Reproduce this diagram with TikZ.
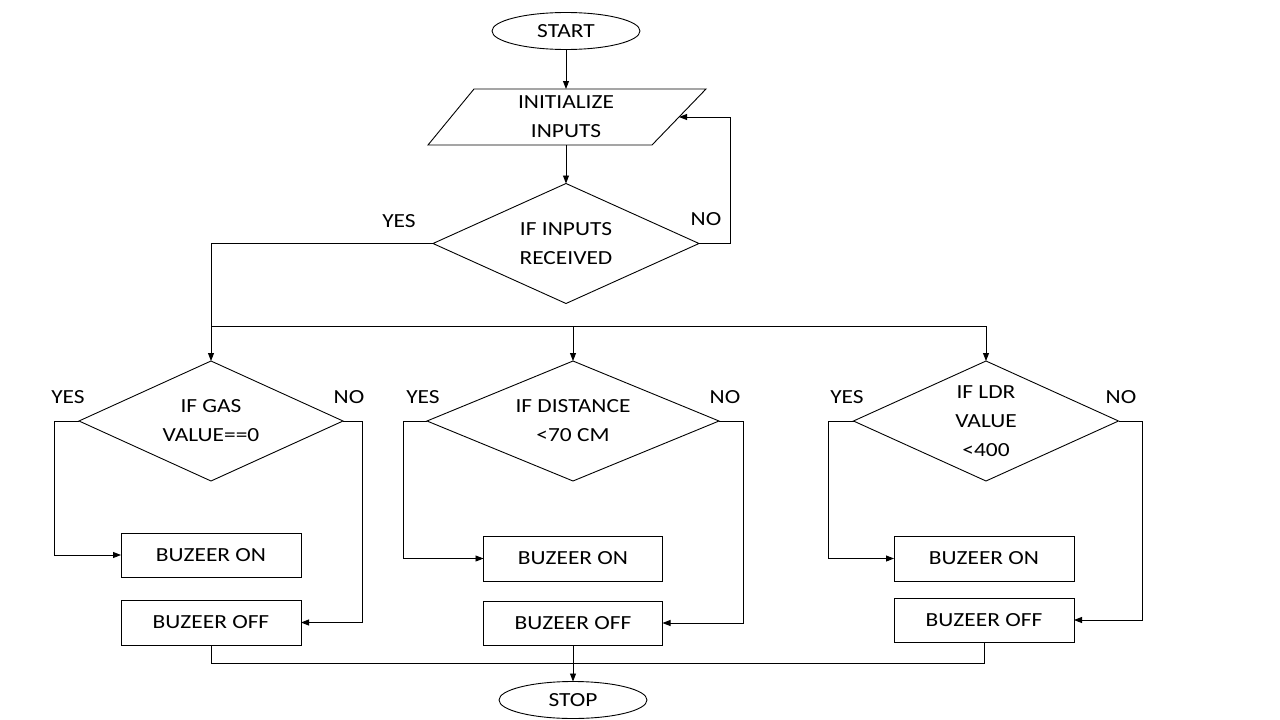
\documentclass[tikz,border=0pt]{standalone}
\usepackage{fontspec}
\setmainfont[FakeStretch=1.17]{Carlito}
\usetikzlibrary{shapes.geometric,arrows.meta}
\begin{document}
\begin{tikzpicture}[x=1pt,y=-1pt, line width=0.9pt,
 every node/.style={font=\fontsize{20}{29}\selectfont, inner sep=0pt, outer sep=0pt},
 term/.style={draw, ellipse, minimum width=148pt, minimum height=37pt},
 dec/.style={draw, diamond, aspect=2.2, minimum height=120pt, align=center},
 proc/.style={draw, rectangle, minimum width=180pt, minimum height=44pt},
 arr/.style={-{Triangle[length=8pt,width=6pt]}},
]
\useasboundingbox[fill=white] (0,0) rectangle (1280,720);

% top part
\node[term] (start) at (566,31) {START};
\node[minimum width=224pt, minimum height=56pt, align=center] (init) at (566,117) {INITIALIZE\\INPUTS};
\draw (474,89) -- (706,89) -- (652,145) -- (428,145) -- cycle;
\coordinate (initr) at (679,117);
\node[dec, minimum width=266pt] (inp) at (566,243.5) {IF INPUTS\\RECEIVED};
\node (yes0) at (399,221) {YES};
\node (no0) at (706,219) {NO};

\draw[arr] (start) -- (init.north);
\draw[arr] (init.south) -- (inp.north);
\draw[arr] (inp.east) -- ++(31,0) |- (initr);

% decisions
\node[dec, minimum width=264pt] (gas) at (211,421) {IF GAS\\VALUE==0};
\node[dec, minimum width=292pt] (dist) at (573,421) {IF DISTANCE\\<70 CM};
\node[dec, minimum width=265pt] (ldr) at (986,421) {IF LDR\\VALUE\\<400};

\node (yes1) at (68,397) {YES};
\node (no1) at (349,397) {NO};
\node (yes2) at (423,397) {YES};
\node (no2) at (725,397) {NO};
\node (yes3) at (847,397) {YES};
\node (no3) at (1121,397) {NO};

\coordinate (bus) at (211,326);
\draw[arr] (inp.west) -| (gas.north);
\draw[arr] (bus) -| (dist.north);
\draw[arr] (bus) -| (ldr.north);

% boxes
\node[proc] (gason) at (211,555) {BUZEER ON};
\node[proc, minimum height=45pt] (gasoff) at (211,622.5) {BUZEER OFF};
\node[proc, minimum width=179pt, minimum height=45pt] (diston) at (573,558.5) {BUZEER ON};
\node[proc, minimum width=179pt] (distoff) at (573,623) {BUZEER OFF};
\node[proc, minimum height=45pt] (ldron) at (984,558.5) {BUZEER ON};
\node[proc] (ldroff) at (984,620) {BUZEER OFF};

\draw[arr] (gas.west) -- ++(-25,0) |- (gason.west);
\draw[arr] (gas.east) -- ++(19,0) |- (gasoff.east);
\draw[arr] (dist.west) -- ++(-24,0) |- (diston.west);
\draw[arr] (dist.east) -- ++(24,0) |- (distoff.east);
\draw[arr] (ldr.west) -- ++(-25,0) |- (ldron.west);
\draw[arr] (ldr.east) -- ++(24,0) |- (ldroff.east);

% end
\node[term] (stop) at (573,700) {STOP};
\draw (gasoff.south) -- ++(0,18) -| (ldroff.south);
\draw[arr] (distoff.south) -- (stop.north);
\end{tikzpicture}
\end{document}
